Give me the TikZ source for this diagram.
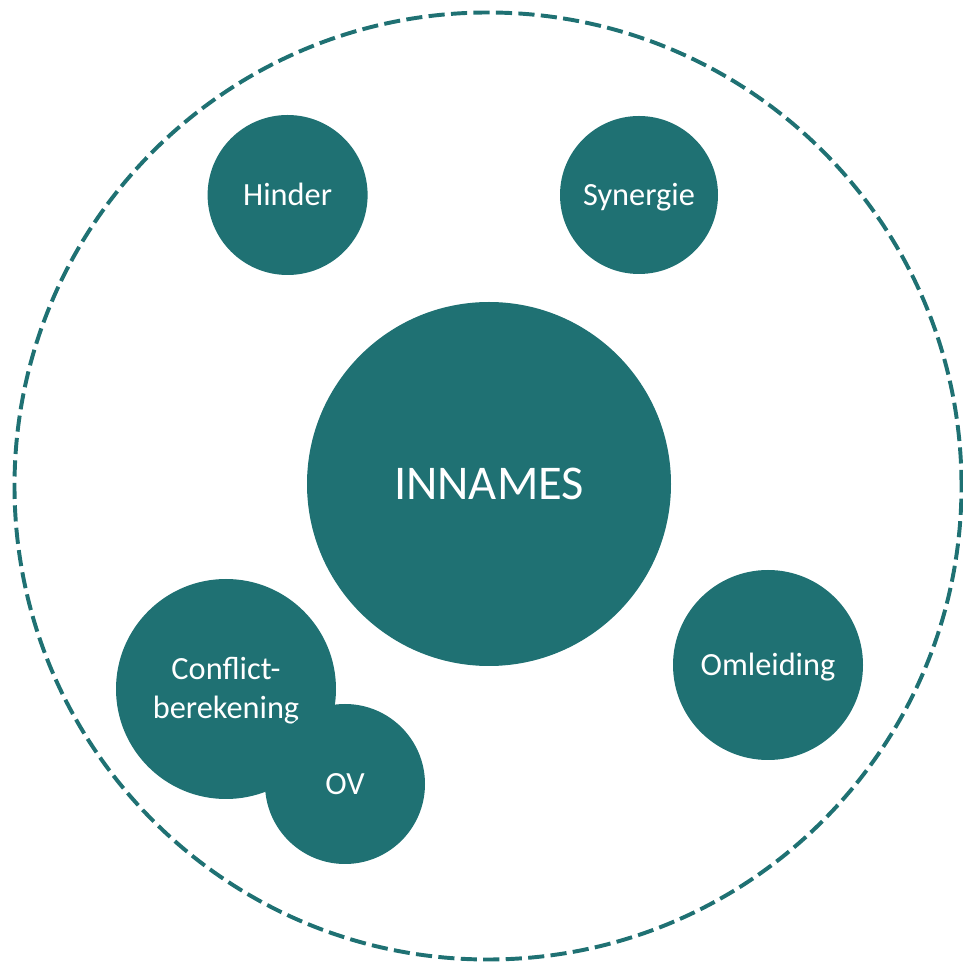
\documentclass[tikz,border=0pt]{standalone}
\usepackage{fontspec}
\setmainfont{Carlito}
\usepackage{tikz}
\definecolor{teal}{HTML}{1F7173}

\begin{document}
\begin{tikzpicture}[thick,
  big node/.style={circle,fill=teal,text=white,inner sep=0pt,text height=22.2pt,text depth=0pt,font=\fontsize{34.5}{40}\selectfont},
  sub node/.style={circle,fill=teal,text=white,inner sep=0pt,align=center,font=\fontsize{23}{27.7}\selectfont},
  one line/.style={text height=14.8pt,text depth=0pt},
  two lines/.style={text height=42.5pt,text depth=0pt},
  outer ring/.style={draw=teal,line width=2.8pt,dash pattern=on 11.5pt off 4.5pt}]
\useasboundingbox (0,0) rectangle (24.075,24.15);

% outer dashed ring
\node[outer ring,circle,minimum size=23.675cm] (ring) at (12.2,12.0) {};

\node[big node,minimum size=9.1cm] (innames) at (12.225,12.05) {INNAMES};
\node[sub node,one line,minimum size=4cm] (hinder) at (7.19,19.275) {Hinder};
\node[sub node,one line,minimum size=3.95cm] (synergie) at (15.975,19.275) {Synergie};
\node[sub node,one line,minimum size=4.75cm] (omleiding) at (19.2,7.525) {Omleiding};
\node[sub node,two lines,minimum size=5.5cm] (conflict) at (5.65,6.925) {Conflict-\\berekening};
\node[sub node,one line,minimum size=4cm] (ov) at (8.625,4.55) {OV};
\end{tikzpicture}
\end{document}
